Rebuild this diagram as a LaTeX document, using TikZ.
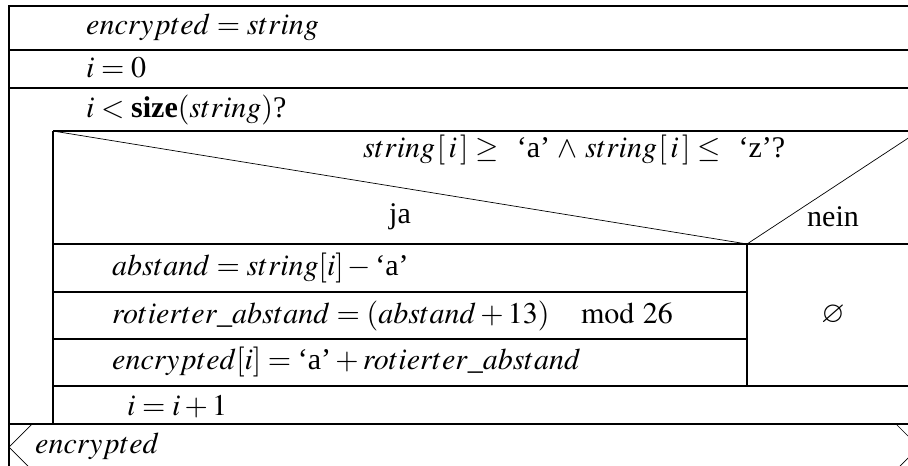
\documentclass[tikz,border=0pt]{standalone}
\usepackage{mathptmx}
\usepackage{amssymb}
\usepackage[no-math]{fontspec}
\setmainfont{Liberation Serif}
\newcommand{\qt}[1]{\mbox{`#1'}}
\newcommand{\ix}{[\mskip2mu i\mskip2mu]}
\begin{document}
\begin{tikzpicture}[x=1pt,y=-1pt,
  boxline/.style={line width=1.3pt},
  thinline/.style={line width=0.7pt},
  txt/.style={anchor=base west,inner sep=0pt,font=\fontsize{30}{36}\selectfont},
  ctxt/.style={anchor=base,inner sep=0pt,font=\fontsize{30}{36}\selectfont}]
\useasboundingbox (0,0) rectangle (908,466);
\clip (0,0) rectangle (908,466);
% outer frame
\draw[boxline] (9,470) -- (9,6) -- (919,6);
\draw[boxline] (9,50) -- (919,50);
\draw[boxline] (9,88) -- (919,88);
% loop block
\draw[boxline] (53,131) -- (919,131);
\draw[boxline] (53,131) -- (53,424);
% if header
\draw[thinline] (53,131) -- (747,244) -- (919,131);
\draw[boxline] (53,244) -- (919,244);
\draw[boxline] (747,244) -- (747,386);
\draw[boxline] (53,292) -- (747,292);
\draw[boxline] (53,339) -- (747,339);
\draw[boxline] (53,386) -- (919,386);
\draw[boxline] (9,424) -- (919,424);
% return block
\draw[thinline] (32,424) -- (9,447) -- (32,470);
\draw[thinline] (896,424) -- (919,447) -- (896,470);
% texts
\node[txt] (t1) at (86,34) {$encrypted = string$};
\node[txt] (t2) at (86,77) {$i = 0$};
\node[txt] (t3) at (86,117) {$i < \textbf{size}(string)$?};
\node[txt] (cond) at (363,157) {$string\mskip1mu\ix \geq\mskip7mu \qt{a} \mskip2mu\wedge\mskip2mu string\mskip1mu\ix \leq\mskip7mu \qt{z}$?};
\node[ctxt] (ja) at (400,223) {ja};
\node[ctxt] (nein) at (833,226) {nein};
\node[txt] (s1) at (112,275) {$abstand = string[i] - \qt{a}$};
\node[txt] (s2) at (112,323) {$rotierter\_abstand = (abstand + 13)\mskip19mu\mathrm{mod}\mskip5mu 26$};
\node[txt] (s3) at (112,369) {$encrypted[i] = \qt{a} + rotierter\_abstand$};
\node[txt] (s4) at (127,415) {$i = i + 1$};
\node[anchor=center,inner sep=0pt,font=\fontsize{30}{36}\selectfont] (empty) at (833,315) {$\varnothing$};
\node[txt] (ret) at (35,453) {$encrypted$};
\end{tikzpicture}
\end{document}
